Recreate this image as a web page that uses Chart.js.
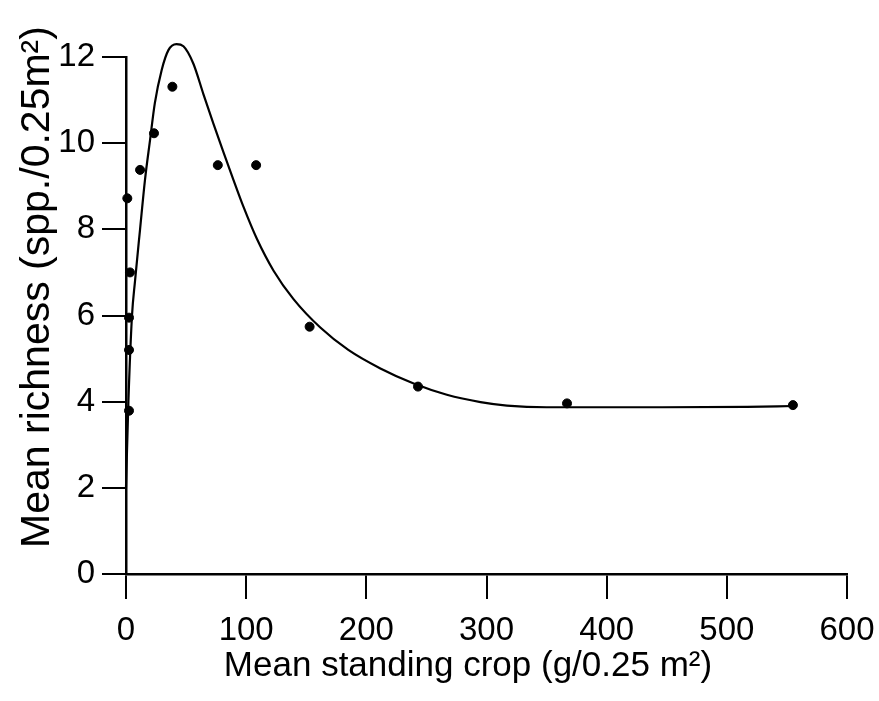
<!DOCTYPE html>
<html>

<head>
  <title>Richness vs standing crop</title>
  <script src="https://cdn.jsdelivr.net/npm/chart.js@4.4.0/dist/chart.umd.min.js"></script>
  <style>
    body { margin: 0; background: #fff; }
    #wrap { width: 879px; height: 701px; }
  </style>
</head>

<body>
  <div id="wrap"><canvas id="chart" width="879" height="701"></canvas></div>
  <script>
    var obsX = [2.5, 2.5, 2.5, 3.3, 1.1, 11.7, 23.3, 38.6, 51.9, 76.4, 108.3, 152.8, 243, 367, 555];
    var obsY = [3.79, 5.2, 5.95, 7.0, 8.72, 9.38, 10.23, 11.31, 12.82, 9.49, 9.49, 5.74, 4.35, 3.96, 3.92];

    // fitted curve
    var fitX = [0, 2, 5, 7.5, 11.7, 15.8, 20, 24, 29.7, 35.3, 42, 47.8, 56, 64.4, 72.8, 81, 89.4, 97.8, 108.9, 122.8, 139.4, 161.7, 185, 211.7, 239.4, 267, 295, 317, 350, 434, 517, 555];
    var fitY = [2, 4, 6, 6.8, 8, 9.15, 10.07, 10.93, 11.7, 12.16, 12.3, 12.25, 11.85, 11.14, 10.45, 9.8, 9.15, 8.52, 7.78, 7.04, 6.38, 5.72, 5.2, 4.77, 4.42, 4.16, 3.99, 3.91, 3.87, 3.87, 3.88, 3.9];

    var xTicks = [0, 100, 200, 300, 400, 500, 600];
    var yTicks = [0, 2, 4, 6, 8, 10, 12];

    var xTitle = 'Mean standing crop (g/0.25 m\u00B2)';
    var yTitle = 'Mean richness (spp./0.25m\u00B2)';

    function pts(xs, ys) {
      return xs.map(function (x, i) { return { x: x, y: ys[i] }; });
    }

    var family = '"Liberation Sans", Arial, sans-serif';
    var font = { family: family, size: 33 };

    // axis titles placed by hand, where the figure has them
    var axisTitles = {
      id: 'axisTitles',
      afterDraw: function (chart) {
        var ctx = chart.ctx;
        ctx.save();
        ctx.fillStyle = '#000';
        ctx.textAlign = 'center';
        ctx.textBaseline = 'alphabetic';
        ctx.font = '35px ' + family;
        ctx.fillText(xTitle, 468, 676);
        ctx.translate(49, 287);
        ctx.rotate(-Math.PI / 2);
        ctx.font = '41px ' + family;
        ctx.fillText(yTitle, 0, 0);
        ctx.restore();
      }
    };

    new Chart(document.getElementById('chart'), {
      type: 'scatter',
      data: {
        datasets: [
          {
            data: pts(obsX, obsY),
            backgroundColor: '#000',
            borderColor: '#000',
            pointRadius: 4.5,
            clip: false
          },
          {
            type: 'line',
            data: pts(fitX, fitY),
            borderColor: '#000',
            borderWidth: 2.2,
            pointRadius: 0,
            fill: false,
            cubicInterpolationMode: 'monotone',
            clip: false
          }
        ]
      },
      options: {
        responsive: false,
        animation: false,
        layout: { padding: { top: 57, right: 32, left: 0, bottom: 0 } },
        plugins: { legend: { display: false }, tooltip: { enabled: false } },
        scales: {
          x: {
            type: 'linear',
            min: 0,
            max: 600,
            afterBuildTicks: function (s) { s.ticks = xTicks.map(function (v) { return { value: v }; }); },
            afterFit: function (s) { s.height = 701 - 574; s.paddingRight = 0; s.paddingLeft = 0; },
            grid: { drawOnChartArea: false, drawTicks: true, tickLength: 25, color: '#000', lineWidth: 2 },
            border: { display: true, color: '#000', width: 2.5 },
            ticks: { color: '#000', font: font, padding: 12, maxRotation: 0 }
          },
          y: {
            type: 'linear',
            min: 0,
            max: 12,
            afterBuildTicks: function (s) { s.ticks = yTicks.map(function (v) { return { value: v }; }); },
            afterFit: function (s) { s.width = 126; s.paddingTop = 0; s.paddingBottom = 0; },
            grid: { drawOnChartArea: false, drawTicks: true, tickLength: 24, color: '#000', lineWidth: 2 },
            border: { display: true, color: '#000', width: 2.5 },
            ticks: { color: '#000', font: font, padding: 7 }
          }
        }
      },
      plugins: [axisTitles]
    });
  </script>
</body>

</html>
